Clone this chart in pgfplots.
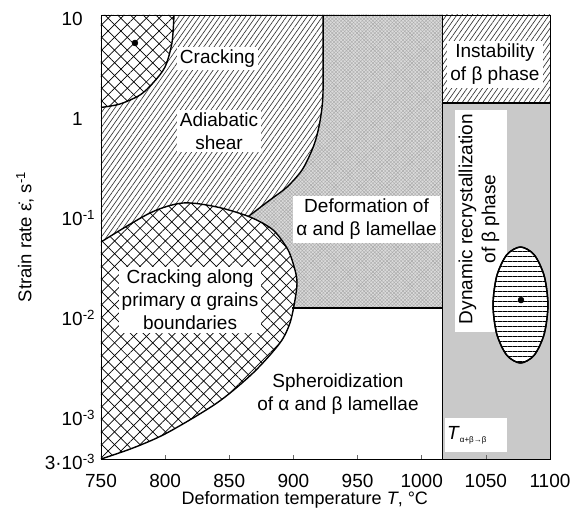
\documentclass[border=0pt]{standalone}
\usepackage{fontspec}
\setmainfont{Liberation Sans}
\usepackage{pgfplots}
\pgfplotsset{compat=1.18}
\usetikzlibrary{patterns.meta}

\definecolor{shade}{gray}{0.79}
\definecolor{dotfill}{gray}{0.86}
\definecolor{dotline}{gray}{0.66}

\tikzset{
  bline/.style={black, line width=1.4pt},
  crossfill/.style={fill=white,
    postaction={pattern={Lines[angle=45,distance=9pt,line width=0.7pt]}},
    postaction={pattern={Lines[angle=-45,distance=9pt,line width=0.7pt]}}},
  hatchfill/.style={fill=white,
    postaction={pattern={Lines[angle=55,distance=4.2pt,line width=0.65pt]}, pattern color=black!80}},
  dotsfill/.style={fill=dotfill,
    postaction={pattern={Lines[angle=45,distance=2.5pt,line width=0.4pt]}, pattern color=dotline},
    postaction={pattern={Lines[angle=-45,distance=2.5pt,line width=0.4pt]}, pattern color=dotline}},
  ellfill/.style={fill=white,
    postaction={pattern={Lines[angle=0,distance=5pt,line width=0.6pt]}}},
  lbl/.style={fill=white, inner sep=3pt, align=center},
}

\begin{document}
\begin{tikzpicture}[font=\fontsize{19}{23}\selectfont]
\path[use as bounding box] (-101pt,-62pt) rectangle (470pt,459pt);
\begin{axis}[
    scale only axis,
    width=449pt, height=444pt,
    xmin=750, xmax=1100,
    ymin=3.63e-4, ymax=10,
    ymode=log,
    axis on top,
    axis line style={line width=0.8pt},
    xtick={750,800,...,1100},
    xtick pos=bottom, xtick align=inside,
    major tick length=4pt,
    xtick style={black!60, line width=0.6pt},
    ytick={3.63e-4,1e-3,1e-2,1e-1,1,10},
    yticklabels={3·10\rlap{\textsuperscript{-3}}, 10\rlap{\textsuperscript{-3}}, 10\rlap{\textsuperscript{-2}}, 10\rlap{\textsuperscript{-1}}, 1, 10},
    ytick style={draw=none},
    minor y tick style={draw=none},
    /pgf/number format/assume math mode=true,
    /pgf/number format/1000 sep={},
    xticklabel style={anchor=center, yshift=-22pt},
    yticklabel style={anchor=base east, inner sep=0pt, xshift=-18pt, yshift=-10.5pt},
    xlabel={Deformation temperature \textit{T}, °C},
    xlabel style={at={(axis description cs:0.454,0)}, anchor=center, yshift=-41pt, font=\fontsize{18}{22}\selectfont},
    ylabel={Strain rate \.{ε}, s\textsuperscript{-1}},
    ylabel style={at={(axis description cs:0,0.5)}, anchor=center, yshift=76pt, font=\fontsize{18.5}{22}\selectfont},
]

% deformation of alpha and beta lamellae (textured grey)
\addplot[draw=none, dotsfill] coordinates {(850,10)(1016,10)(1016,0.01175)(850,0.01175)} -- cycle;

% adiabatic shear / cracking (hatched)
\addplot[draw=none, hatchfill, smooth] coordinates {
  (923.1,10)(923.1,1.778)(921.5,1)(918.4,0.631)(914.5,0.4467)(906.7,0.2818)
  (895.0,0.1905)(881.7,0.1413)(865,0.097)}
  -- (axis cs:860,0.07) -- (axis cs:750,0.03) -- (axis cs:750,10) -- cycle;
\addplot[bline, smooth] coordinates {
  (923.1,10)(923.1,1.778)(921.5,1)(918.4,0.631)(914.5,0.4467)(906.7,0.2818)
  (895.0,0.1905)(881.7,0.1413)(865,0.097)};

% cracking (top left)
\addplot[draw=none, crossfill, smooth] coordinates {
  (750,1.19)(764.8,1.288)(780.4,1.585)(790.5,2.089)(799.9,3.02)(805.3,5.25)(806.9,10)}
  -- (axis cs:750,10) -- cycle;
\addplot[bline, smooth] coordinates {
  (750,1.19)(764.8,1.288)(780.4,1.585)(790.5,2.089)(799.9,3.02)(805.3,5.25)(806.9,10)};

% cracking along primary alpha grain boundaries
\addplot[draw=none, crossfill, smooth] coordinates {
  (750,0.0537)(788.2,0.1047)(813.9,0.1318)(840.4,0.1202)(866.1,0.0955)(884.1,0.0708)
  (895.8,0.0447)(901.2,0.0282)(902.8,0.0209)(901.2,0.0141)(897.3,0.00832)(889.5,0.00525)
  (868.5,0.00263)(840.4,0.00132)(801.4,0.000661)(775,0.000468)(750,0.000363)} -- cycle;
\addplot[bline, smooth] coordinates {
  (750,0.0537)(788.2,0.1047)(813.9,0.1318)(840.4,0.1202)(866.1,0.0955)(884.1,0.0708)
  (895.8,0.0447)(901.2,0.0282)(902.8,0.0209)(901.2,0.0141)(897.3,0.00832)(889.5,0.00525)
  (868.5,0.00263)(840.4,0.00132)(801.4,0.000661)(775,0.000468)(750,0.000363)};

\addplot[bline] coordinates {(899,0.01175)(1016,0.01175)};

% beta region
\addplot[draw=none, hatchfill] coordinates {(1016,10)(1100,10)(1100,1.318)(1016,1.318)} -- cycle;
\addplot[draw=none, fill=shade] coordinates {(1016,1.318)(1100,1.318)(1100,3.63e-4)(1016,3.63e-4)} -- cycle;
\addplot[draw=none, fill=white] coordinates {(1025.9,1.122)(1066.5,1.122)(1066.5,0.00676)(1025.9,0.00676)} -- cycle;
\addplot[draw=none, fill=white] coordinates {(1018.2,9.33e-4)(1066.5,9.33e-4)(1066.5,4.27e-4)(1018.2,4.27e-4)} -- cycle;

% dynamic recrystallization domain
\addplot[bline, ellfill, smooth cycle] coordinates {
  (1098.4,0.01259)(1095.5,0.02455)(1087.7,0.04000)(1077,0.04786)(1066.3,0.04000)(1058.5,0.02455)
  (1055.6,0.01259)(1058.5,0.006457)(1066.3,0.003963)(1077,0.003311)(1087.7,0.003963)(1095.5,0.006457)};

\addplot[bline] coordinates {(1016,3.63e-4)(1016,10)};
\addplot[bline] coordinates {(1016,1.318)(1100,1.318)};

% peak efficiency points
\addplot[only marks, mark=*, mark size=3pt, black] coordinates {(776.5,5.25)(1077.4,0.0141)};

% labels
\node[lbl] at (axis cs:840.8,3.67) {Cracking};
\node[lbl] at (axis cs:842,0.692) {Adiabatic\\shear};
\node[lbl] at (axis cs:957,0.0902) {Deformation of\\α and β lamellae};
\node[lbl] at (axis cs:819.4,0.0141) {Cracking along\\primary α grains\\boundaries};
\node[align=center] at (axis cs:934.7,0.00162) {Spheroidization\\of α and β lamellae};
\node[lbl] at (axis cs:1057.1,3.2) {Instability\\of β phase};
\node[align=center, rotate=90] at (axis cs:1044.7,0.0912) {Dynamic recrystallization\\of β phase};
\node[anchor=west, inner sep=0pt] at (axis cs:1019.7,6.3e-4) {\textit{T}\raisebox{-3pt}{\fontsize{8}{9}\selectfont α+β→β}};
\end{axis}
\end{tikzpicture}
\end{document}
